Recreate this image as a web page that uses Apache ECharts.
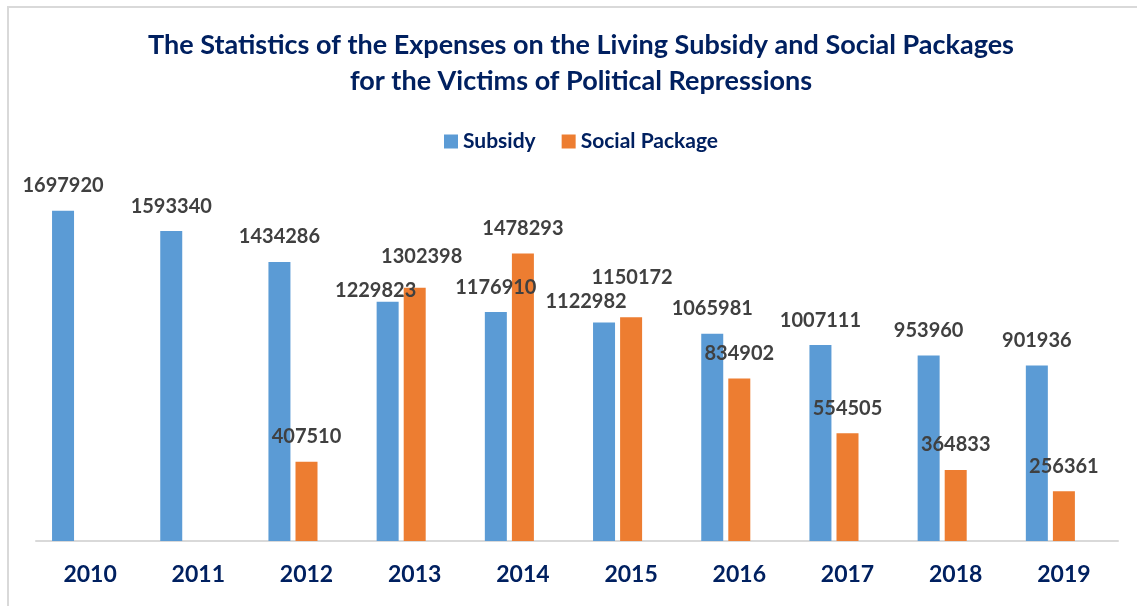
<!DOCTYPE html>
<html>
<head>
<meta charset="utf-8">
<script src="https://cdn.jsdelivr.net/npm/echarts@6/dist/echarts.min.js"></script>
<style>
html, body { margin: 0; padding: 0; background: #fff; }
#frame { position: absolute; left: 7px; top: 6px; width: 1140px; height: 610px; border-left: 2px solid #d9d9d9; border-top: 2px solid #d9d9d9; }
#main { position: absolute; left: 0; top: 0; width: 1137px; height: 606px; }
</style>
</head>
<body>
<div id="frame"></div>
<div id="main"></div>
<script>
// chart data
var years = ['2010', '2011', '2012', '2013', '2014', '2015', '2016', '2017', '2018', '2019'];
var subsidy = [1697920, 1593340, 1434286, 1229823, 1176910, 1122982, 1065981, 1007111, 953960, 901936];
var socialPackage = ['-', '-', 407510, 1302398, 1478293, 1150172, 834902, 554505, 364833, 256361];

var navy = '#002060';

// labels that were moved by hand in the original so they don't collide
var subsidyShift = {3: [-12, 14], 5: [-18, 4]};
var packageShift = {3: [7, -6], 5: [1, -15]};

function withShift(values, shift) {
    return values.map(function (v, i) {
        if (shift[i]) {
            return {value: v, label: {offset: shift[i]}};
        }
        return v;
    });
}

var labelStyle = {
    show: true,
    position: 'top',
    distance: 15,
    color: '#404040',
    fontFamily: 'Lato',
    fontWeight: 'bold',
    fontSize: 20,
    lineHeight: 20
};

var myChart = echarts.init(document.getElementById('main'));
var option = {
    animation: false,
    title: {
        text: 'The Statistics of the Expenses on the Living Subsidy and Social Packages\nfor the Victims of Political Repressions',
        left: 576,
        top: 22,
        textAlign: 'center',
        textStyle: {
            color: navy,
            fontFamily: 'Lato',
            fontWeight: 'bold',
            fontSize: 27,
            lineHeight: 36
        }
    },
    legend: {
        data: ['Subsidy', 'Social Package'],
        left: 439,
        top: 126,
        itemWidth: 14,
        itemHeight: 14,
        itemGap: 26,
        icon: 'rect',
        textStyle: {color: navy, fontFamily: 'Lato', fontWeight: 'bold', fontSize: 21}
    },
    grid: {
        left: 36,
        right: 19,
        top: 152,
        bottom: 65,
        containLabel: false
    },
    xAxis: {
        type: 'category',
        data: years,
        axisTick: {show: false},
        axisLine: {lineStyle: {color: '#d9d9d9', width: 2}},
        axisLabel: {
            color: navy,
            fontFamily: 'Lato',
            fontWeight: 'bold',
            fontSize: 23,
            margin: 22
        }
    },
    yAxis: {
        type: 'value',
        min: 0,
        max: 2000000,
        show: false,
        splitLine: {show: false}
    },
    series: [
        {
            name: 'Subsidy',
            type: 'bar',
            barWidth: 22,
            barGap: '23%',
            itemStyle: {color: '#5b9bd5'},
            label: labelStyle,
            data: withShift(subsidy, subsidyShift)
        },
        {
            name: 'Social Package',
            type: 'bar',
            barWidth: 22,
            barGap: '23%',
            itemStyle: {color: '#ed7d31'},
            label: labelStyle,
            data: withShift(socialPackage, packageShift)
        },
        {
            // empty slot kept from the source chart, it shifts the groups left
            name: 'blank',
            type: 'bar',
            barWidth: 22,
            barGap: '23%',
            data: years.map(function () { return '-'; })
        }
    ]
};
myChart.setOption(option);
</script>
</body>
</html>
